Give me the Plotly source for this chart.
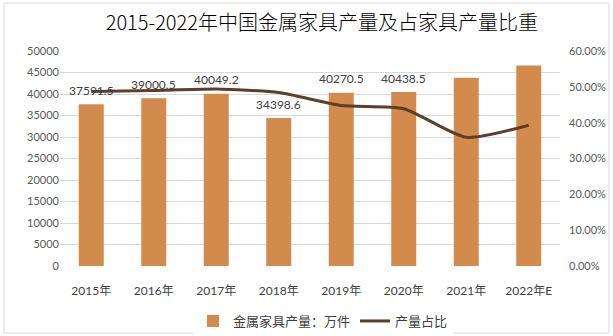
import plotly.graph_objects as go

years = ["2015年", "2016年", "2017年", "2018年", "2019年", "2020年", "2021年", "2022年E"]
output = [37591.5, 39000.5, 40049.2, 34398.6, 40270.5, 40438.5, 43800, 46600]
label_flags = [True, True, True, True, True, True, False, False]
share = [0.487, 0.490, 0.494, 0.484, 0.448, 0.439, 0.359, 0.393]
left_ticks = list(range(0, 50001, 5000))
right_ticks = [0, 0.1, 0.2, 0.3, 0.4, 0.5, 0.6]

FONT = "Lato, 'Noto Sans CJK SC', sans-serif"
BAR_COLOR = "#D38B4D"
LINE_COLOR = "#5B3F28"
GRID = "#D9D9D9"

fig = go.Figure()
fig.add_trace(go.Bar(
    x=years, y=output, name="金属家具产量：万件",
    marker=dict(color=BAR_COLOR, line=dict(width=0)), width=0.4,
))
fig.add_trace(go.Scatter(
    x=years, y=share, name="产量占比", yaxis="y2", mode="lines",
    line=dict(color=LINE_COLOR, width=3, shape="spline", smoothing=0.6),
))

for x, v, f in zip(years, output, label_flags):
    if f:
        fig.add_annotation(x=x, y=v, text=f"{v:.1f}", showarrow=False,
                           yshift=14, font=dict(family=FONT, size=12, color="#404040"))

fig.add_shape(type="rect", xref="paper", yref="paper",
              x0=-0.112, x1=1.098, y0=-0.312, y1=1.223,
              line=dict(color=GRID, width=1), layer="below")

fig.update_layout(
    width=613, height=336,
    margin=dict(l=60, r=53, t=51, b=70),
    paper_bgcolor="white", plot_bgcolor="white",
    font=dict(family=FONT, color="#595959"),
    title=dict(text="2015-2022年中国金属家具产量及占家具产量比重", x=0.525, xanchor="center",
               y=1 - 23 / 336, yanchor="middle",
               font=dict(family="'Noto Sans CJK SC', sans-serif", size=20, color="#000000", weight=300)),
    bargap=0.6,
    showlegend=True,
    legend=dict(orientation="h", x=0.526, xanchor="center",
                yref="container", y=1 - 321 / 336, yanchor="middle",
                font=dict(family="'Noto Sans CJK SC', sans-serif", size=13, color="#404040"),
                itemwidth=30, traceorder="normal", tracegroupgap=0),
    xaxis=dict(showgrid=False, showline=False, ticks="", zeroline=False, ticklabelstandoff=16,
               automargin=False,
               tickfont=dict(family=FONT, size=12, color="#404040")),
    yaxis=dict(range=[0, 50000], tickvals=left_ticks, ticktext=[str(t) for t in left_ticks],
               showgrid=True, gridcolor=GRID, gridwidth=1, zeroline=False, showline=False,
               automargin=False,
               tickfont=dict(family=FONT, size=11, color="#595959"), ticks="", ticklen=0),
    yaxis2=dict(range=[0, 0.6], tickvals=right_ticks, tickformat=".2%", overlaying="y",
                side="right", showgrid=False, zeroline=False, showline=False,
                ticklabelstandoff=8, automargin=False,
                tickfont=dict(family=FONT, size=11, color="#595959")),
)
fig.write_html("out.html")
